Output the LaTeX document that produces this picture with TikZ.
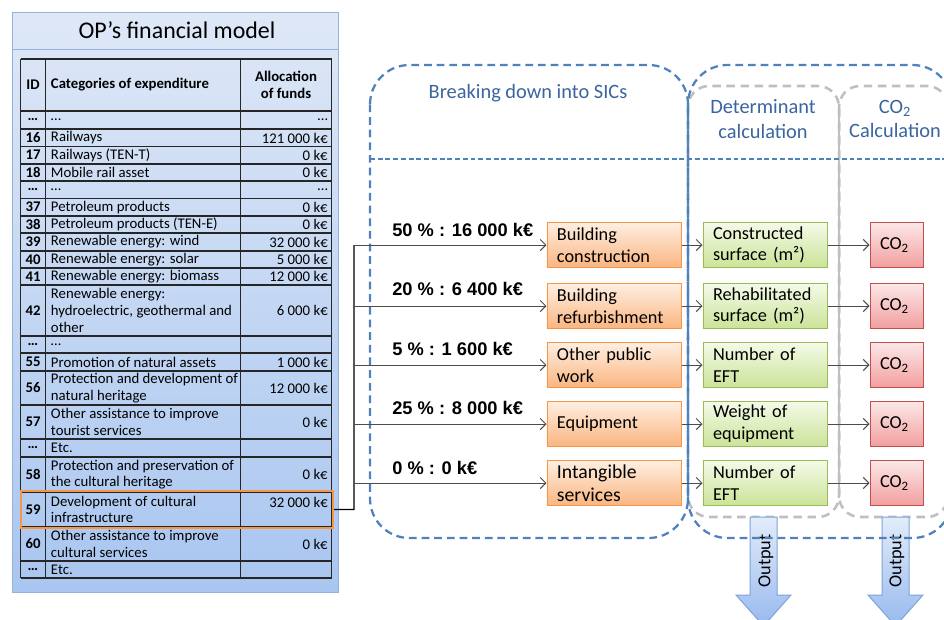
\documentclass[tikz,border=0pt]{standalone}
\usepackage{fontspec}
\setmainfont{Carlito}
\newfontfamily\arialfont{Liberation Sans}
\usetikzlibrary{arrows.meta,fit}

\definecolor{frameblue}{HTML}{4F81BD}
\definecolor{headblue}{HTML}{3A65A0}
\definecolor{framegray}{HTML}{BFBFBF}
\definecolor{panelline}{HTML}{95B3D7}
\definecolor{paneltop}{HTML}{DEE8F7}
\definecolor{panelbot}{HTML}{A9C6F0}
\definecolor{hlorange}{HTML}{F79646}
\definecolor{sicline}{HTML}{F79646}
\definecolor{sictop}{HTML}{FEEFE2}
\definecolor{sicbot}{HTML}{FAB580}
\definecolor{detline}{HTML}{9BBB59}
\definecolor{dettop}{HTML}{F4FAE8}
\definecolor{detbot}{HTML}{CBE398}
\definecolor{coline}{HTML}{C0504D}
\definecolor{cotop}{HTML}{FCE8E8}
\definecolor{cobot}{HTML}{F29E9E}
\definecolor{outblue}{HTML}{7EA3D8}
\definecolor{outtop}{HTML}{E2ECFA}
\definecolor{outbot}{HTML}{98B9EE}

\begin{document}
\begin{tikzpicture}[x=0.025cm, y=-0.025cm,
  panel/.style={draw=panelline, line width=0.6pt, top color=paneltop, bottom color=panelbot},
  tabtext/.style={inner sep=0pt, font=\fontsize{10.5}{11.8}\selectfont},
  idcell/.style={inner sep=0pt, font=\fontsize{10.5}{11.8}\selectfont\bfseries},
  catcell/.style={tabtext, anchor=west, align=left},
  amtcell/.style={tabtext, anchor=east, align=right},
  tabline/.style={draw=black!85, line width=0.9pt},
  hlbox/.style={draw=hlorange, line width=1.6pt, inner sep=0pt},
  sicbox/.style={draw=sicline, line width=0.7pt, top color=sictop, bottom color=sicbot,
    text width=2.85cm, inner xsep=0.25cm, inner ysep=1pt, minimum height=1.125cm,
    align=left, font=\fontsize{13}{15.5}\selectfont},
  detbox/.style={draw=detline, line width=0.7pt, top color=dettop, bottom color=detbot,
    text width=2.6cm, inner xsep=0.25cm, inner ysep=1pt, minimum height=1.125cm,
    align=left, font=\fontsize{13}{15.5}\selectfont},
  cobox/.style={draw=coline, line width=0.7pt, top color=cotop, bottom color=cobot,
    text width=0.825cm, inner xsep=0.25cm, inner ysep=1pt, minimum height=1.125cm,
    align=left, font=\fontsize{13}{15.5}\selectfont},
  pctlabel/.style={anchor=west, inner sep=0pt, font=\arialfont\fontsize{13}{15}\selectfont\bfseries},
  headtext/.style={text=headblue, align=center, inner sep=0pt, font=\fontsize{14.5}{17.5}\selectfont},
  blueframe/.style={draw=frameblue, line width=1.6pt, dash pattern=on 5.5pt off 3.5pt, rounded corners=28pt},
  bluethin/.style={draw=frameblue, line width=0.9pt, dash pattern=on 3.5pt off 2pt},
  grayframe/.style={draw=framegray, line width=1.8pt, dash pattern=on 6pt off 4pt, rounded corners=15pt},
  graysolid/.style={draw=framegray, line width=1.8pt},
  trunkline/.style={draw=black, line width=0.9pt},
  ar/.style={draw=black!70, line width=0.7pt, -{Straight Barb[length=4pt,width=8pt]}},
  outarrow/.style={draw=outblue, line width=0.7pt, top color=outtop, bottom color=outbot},
  outtext/.style={inner sep=0pt, font=\fontsize{13}{15}\selectfont},
]
\path[use as bounding box, fill=white] (0,0) rectangle (944,619);
\clip (0,0) rectangle (944,619);

%--- OP's financial model panel ---
\draw[panel] (12,12) rectangle (338,592);
\node[inner sep=0pt, font=\fontsize{17}{20}\selectfont] (title) at (177,30) {OP’s financial model};
\draw[panelline, line width=0.6pt] (12,49) -- (338,49);

%--- table grid ---
\foreach \y in {59,111,129,146.5,164,181,198.5,216,233,251,268,285,336,353,371,405,439,457,492,527,561,578}
  \draw[tabline] (20.7,\y) -- (331.7,\y);
\foreach \x in {20.7,45.7,240.7,331.7}
  \draw[tabline] (\x,59) -- (\x,578);

%--- table header ---
\node[idcell] (idh) at (33,85) {ID};
\node[catcell, font=\fontsize{10.5}{11.8}\selectfont\bfseries] (cath) at (50.7,85) {Categories of expenditure};
\node[idcell, align=center] (amth) at (286,85) {Allocation\\of funds};

%--- table rows ---
\node[idcell]  (idA)   at (33,120)    {…};
\node[catcell] (catA)  at (50.7,120)  {…};
\node[amtcell] (amtA)  at (328,120)   {…};
\node[idcell]  (id16)  at (33,138)    {16};
\node[catcell] (cat16) at (50.7,138)  {Railways};
\node[amtcell] (amt16) at (328,138)   {121 000 k€};
\node[idcell]  (id17)  at (33,155.2)  {17};
\node[catcell] (cat17) at (50.7,155.2) {Railways (TEN-T)};
\node[amtcell] (amt17) at (328,155.2) {0 k€};
\node[idcell]  (id18)  at (33,172.5)  {18};
\node[catcell] (cat18) at (50.7,172.5) {Mobile rail asset};
\node[amtcell] (amt18) at (328,172.5) {0 k€};
\node[idcell]  (idB)   at (33,189.7)  {…};
\node[catcell] (catB)  at (50.7,189.7) {…};
\node[amtcell] (amtB)  at (328,189.7) {…};
\node[idcell]  (id37)  at (33,207.2)  {37};
\node[catcell] (cat37) at (50.7,207.2) {Petroleum products};
\node[amtcell] (amt37) at (328,207.2) {0 k€};
\node[idcell]  (id38)  at (33,224.5)  {38};
\node[catcell] (cat38) at (50.7,224.5) {Petroleum products (TEN-E)};
\node[amtcell] (amt38) at (328,224.5) {0 k€};
\node[idcell]  (id39)  at (33,242)    {39};
\node[catcell] (cat39) at (50.7,242)  {Renewable energy: wind};
\node[amtcell] (amt39) at (328,242)   {32 000 k€};
\node[idcell]  (id40)  at (33,259.5)  {40};
\node[catcell] (cat40) at (50.7,259.5) {Renewable energy: solar};
\node[amtcell] (amt40) at (328,259.5) {5 000 k€};
\node[idcell]  (id41)  at (33,276.5)  {41};
\node[catcell] (cat41) at (50.7,276.5) {Renewable energy: biomass};
\node[amtcell] (amt41) at (328,276.5) {12 000 k€};
\node[idcell]  (id42)  at (33,310.5)  {42};
\node[catcell] (cat42) at (50.7,310.5) {Renewable energy:\\hydroelectric, geothermal and\\other};
\node[amtcell] (amt42) at (328,310.5) {6 000 k€};
\node[idcell]  (idC)   at (33,344.5)  {…};
\node[catcell] (catC)  at (50.7,344.5) {…};
\node[idcell]  (id55)  at (33,362)    {55};
\node[catcell] (cat55) at (50.7,362)  {Promotion of natural assets};
\node[amtcell] (amt55) at (328,362)   {1 000 k€};
\node[idcell]  (id56)  at (33,388)    {56};
\node[catcell] (cat56) at (50.7,388)  {Protection and development of\\natural heritage};
\node[amtcell] (amt56) at (328,388)   {12 000 k€};
\node[idcell]  (id57)  at (33,422)    {57};
\node[catcell] (cat57) at (50.7,422)  {Other assistance to improve\\tourist services};
\node[amtcell] (amt57) at (328,422)   {0 k€};
\node[idcell]  (idD)   at (33,448)    {…};
\node[catcell] (catD)  at (50.7,448)  {Etc.};
\node[idcell]  (id58)  at (33,474.5)  {58};
\node[catcell] (cat58) at (50.7,474.5) {Protection and preservation of\\the cultural heritage};
\node[amtcell] (amt58) at (328,474.5) {0 k€};
\node[idcell]  (id59)  at (33,509.5)  {59};
\node[catcell] (cat59) at (50.7,509.5) {Development of cultural\\infrastructure};
\node[amtcell] (amt59) at (328,502)   {32 000 k€};
\node[idcell]  (id60)  at (33,544)    {60};
\node[catcell] (cat60) at (50.7,544)  {Other assistance to improve\\cultural services};
\node[amtcell] (amt60) at (328,544)   {0 k€};
\node[idcell]  (idE)   at (33,569.5)  {…};
\node[catcell] (catE)  at (50.7,569.5) {Etc.};

%--- selected row ---
\node[hlbox, fit={(21,491) (333,528)}] (hl) {};

%--- gray frames ---
\draw[grayframe] (688,86) rectangle (839,517);
\draw[grayframe] (839,86) rectangle (948,517);
\draw[graysolid] (688,104) -- (688,498);
\draw[graysolid] (839,104) -- (839,498);

%--- output arrows ---
\draw[outarrow] (750,517) -- (777,517) -- (777,595) -- (791,595) -- (763.5,626)
  -- (736,595) -- (750,595) -- cycle;
\draw[outarrow] (882,517) -- (909,517) -- (909,595) -- (923,595) -- (895.5,626)
  -- (868,595) -- (882,595) -- cycle;
\node[outtext, rotate=90] (out1) at (766,561) {Output};
\node[outtext, rotate=90] (out2) at (897,561) {Output};

%--- blue frames ---
\draw[blueframe] (370,65) rectangle (688,538);
\draw[blueframe] (688,65) rectangle (952,538);
\draw[bluethin] (370,159) -- (944,159);
\node[headtext] (hsic) at (528,93) {Breaking down into SICs};
\node[headtext] (hdet) at (763,119) {Determinant\\calculation};
\node[headtext] (hco)  at (895,119) {CO\textsubscript{2}\\Calculation};

%--- SIC boxes ---
\node[sicbox] (sic1) at (614,245) {Building\\construction};
\node[sicbox] (sic2) at (614,306) {Building\\refurbishment};
\node[sicbox] (sic3) at (614,365) {Other public\\work};
\node[sicbox] (sic4) at (614,424) {Equipment};
\node[sicbox, font=\fontsize{14}{16}\selectfont] (sic5) at (614,483) {Intangible\\services};

%--- determinants ---
\node[detbox] (det1) at (765,245) {Constructed\\surface (m²)};
\node[detbox] (det2) at (765,306) {Rehabilitated\\surface (m²)};
\node[detbox] (det3) at (765,365) {Number of\\EFT};
\node[detbox] (det4) at (765,424) {Weight of\\equipment};
\node[detbox] (det5) at (765,483) {Number of\\EFT};

%--- CO2 boxes ---
\node[cobox] (co1) at (896.5,245) {CO\textsubscript{2}};
\node[cobox] (co2) at (896.5,306) {CO\textsubscript{2}};
\node[cobox] (co3) at (896.5,365) {CO\textsubscript{2}};
\node[cobox] (co4) at (896.5,424) {CO\textsubscript{2}};
\node[cobox] (co5) at (896.5,483) {CO\textsubscript{2}};

%--- split of the selected allocation ---
\coordinate (trunk) at (354,509.5);
\draw[trunkline] (hl.east) -- (trunk) -- (trunk |- sic1.west);
\draw[ar] (trunk |- sic1.west) -- (sic1.west);
\draw[ar] (trunk |- sic2.west) -- (sic2.west);
\draw[ar] (trunk |- sic3.west) -- (sic3.west);
\draw[ar] (trunk |- sic4.west) -- (sic4.west);
\draw[ar] (trunk |- sic5.west) -- (sic5.west);
\node[pctlabel] (pct1) at (392,230) {50 \% : 16 000 k€};
\node[pctlabel] (pct2) at (392,289) {20 \% : 6 400 k€};
\node[pctlabel] (pct3) at (392,349) {5 \% : 1 600 k€};
\node[pctlabel] (pct4) at (392,408) {25 \% : 8 000 k€};
\node[pctlabel] (pct5) at (392,468) {0 \% : 0 k€};

%--- SIC -> determinant -> CO2 ---
\draw[ar] (sic1.east) -- (det1.west);
\draw[ar] (sic2.east) -- (det2.west);
\draw[ar] (sic3.east) -- (det3.west);
\draw[ar] (sic4.east) -- (det4.west);
\draw[ar] (sic5.east) -- (det5.west);
\draw[ar] (det1.east) -- (co1.west);
\draw[ar] (det2.east) -- (co2.west);
\draw[ar] (det3.east) -- (co3.west);
\draw[ar] (det4.east) -- (co4.west);
\draw[ar] (det5.east) -- (co5.west);

\end{tikzpicture}
\end{document}
